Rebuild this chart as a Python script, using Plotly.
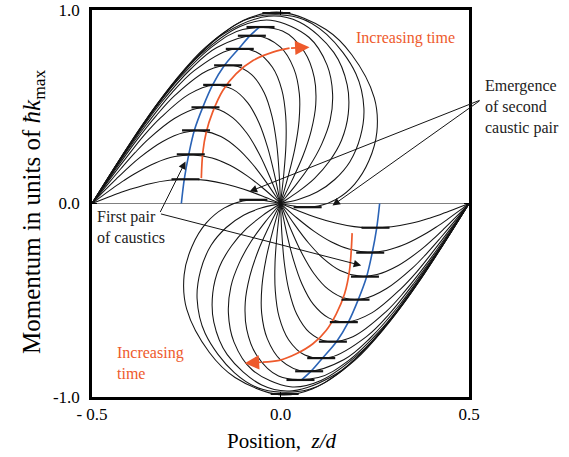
import plotly.graph_objects as go

# ---- phase-space curves (upper half, from z=-0.5 to the origin); lower half is the point reflection ----
curve_01_z = [-0.5, -0.4897, -0.4742, -0.4485, -0.4228, -0.397, -0.3463, -0.2951, -0.2455, -0.1954, -0.1459, -0.0971, -0.0484, 0.0]
curve_01_p = [0.0, 0.008, 0.0199, 0.0392, 0.0576, 0.0744, 0.1026, 0.1201, 0.1257, 0.1195, 0.101, 0.0733, 0.0386, 0.0]
curve_02_z = [-0.5, -0.4887, -0.4718, -0.4436, -0.4158, -0.3879, -0.3334, -0.2804, -0.2311, -0.1814, -0.134, -0.0884, -0.0438, 0.0]
curve_02_p = [0.0, 0.0165, 0.041, 0.0808, 0.1184, 0.1526, 0.2081, 0.2424, 0.2508, 0.2352, 0.1976, 0.1427, 0.075, 0.0]
curve_03_z = [-0.5, -0.487, -0.4676, -0.4353, -0.4038, -0.3727, -0.3124, -0.2561, -0.2065, -0.1581, -0.1146, -0.0745, -0.0366, 0.0]
curve_03_p = [0.0, 0.026, 0.0648, 0.1272, 0.1857, 0.2385, 0.3203, 0.3666, 0.3741, 0.3463, 0.2863, 0.2043, 0.1065, 0.0]
curve_04_z = [-0.5, -0.4845, -0.4613, -0.423, -0.3859, -0.3496, -0.2815, -0.2221, -0.1717, -0.1263, -0.0886, -0.056, -0.027, 0.0]
curve_04_p = [0.0, 0.037, 0.0925, 0.1809, 0.2625, 0.3342, 0.4396, 0.4913, 0.4902, 0.4429, 0.3616, 0.2546, 0.1315, 0.0]
curve_05_z = [-0.5, -0.481, -0.4526, -0.406, -0.362, -0.3184, -0.2422, -0.1779, -0.1276, -0.0873, -0.0572, -0.0342, -0.0158, 0.0]
curve_05_p = [0.0, 0.051, 0.1263, 0.2448, 0.3518, 0.442, 0.5651, 0.611, 0.5911, 0.5217, 0.4173, 0.2899, 0.1483, 0.0]
curve_06_z = [-0.5, -0.4766, -0.4417, -0.3853, -0.330, -0.2787, -0.1919, -0.1247, -0.0766, -0.0432, -0.0224, -0.0101, -0.0036, 0.0]
curve_06_p = [0.0, 0.066, 0.1646, 0.3175, 0.453, 0.5612, 0.6886, 0.7131, 0.6657, 0.572, 0.4485, 0.3074, 0.156, 0.0]
curve_07_z = [-0.5, -0.4701, -0.426, -0.3535, -0.2882, -0.2288, -0.132, -0.0645, -0.0214, 0.0035, 0.0138, 0.0145, 0.0088, 0.0]
curve_07_p = [0.0, 0.088, 0.2176, 0.4132, 0.572, 0.6867, 0.7951, 0.7832, 0.7039, 0.5877, 0.4519, 0.3056, 0.154, 0.0]
curve_08_z = [-0.5, -0.462, -0.4059, -0.317, -0.2374, -0.1688, -0.0652, -0.0007, 0.0351, 0.05, 0.0492, 0.0382, 0.0206, 0.0]
curve_08_p = [0.0, 0.115, 0.2807, 0.5205, 0.6964, 0.806, 0.8669, 0.809, 0.6985, 0.5667, 0.4272, 0.2848, 0.1424, 0.0]
curve_09_z = [-0.5, -0.4515, -0.3806, -0.3246, -0.271, -0.1768, -0.1003, 0.0052, 0.0633, 0.0896, 0.0935, 0.0815, 0.0596, 0.0312, 0.0]
curve_09_p = [0.0, 0.149, 0.358, 0.5119, 0.6413, 0.8173, 0.8994, 0.891, 0.7841, 0.6503, 0.5116, 0.3769, 0.2467, 0.122, 0.0]
curve_10_z = [-0.5, -0.438, -0.3474, -0.2785, -0.2145, -0.1073, -0.0261, 0.0753, 0.1236, 0.1382, 0.1316, 0.109, 0.0773, 0.0399, 0.0]
curve_10_p = [0.0, 0.192, 0.4526, 0.6298, 0.7658, 0.9145, 0.9472, 0.8593, 0.7149, 0.5665, 0.4292, 0.3057, 0.1941, 0.094, 0.0]
curve_11_z = [-0.5, -0.4207, -0.3636, -0.3075, -0.2227, -0.1485, -0.0318, 0.0497, 0.1413, 0.1769, 0.1797, 0.1621, 0.1301, 0.0904, 0.0461, 0.0]
curve_11_p = [0.0, 0.2445, 0.4137, 0.5629, 0.7559, 0.8795, 0.9673, 0.938, 0.7813, 0.6133, 0.4629, 0.3283, 0.2196, 0.1304, 0.0602, 0.0]
curve_12_z = [-0.5, -0.3989, -0.3265, -0.2576, -0.1576, -0.0746, 0.0458, 0.1225, 0.2, 0.2212, 0.2119, 0.1841, 0.1439, 0.098, 0.0494, 0.0]
curve_12_p = [0.0, 0.3115, 0.5169, 0.6843, 0.8722, 0.9615, 0.9617, 0.8742, 0.671, 0.4939, 0.3454, 0.2162, 0.1241, 0.0603, 0.0226, 0.0]
curve_13_z = [-0.5, -0.3705, -0.2798, -0.1978, -0.084, 0.0037, 0.1206, 0.1886, 0.2488, 0.2556, 0.2345, 0.1967, 0.1498, 0.1, 0.0497, 0.0]
curve_13_p = [0.0, 0.394, 0.6345, 0.809, 0.9581, 0.9877, 0.8993, 0.7703, 0.5463, 0.3688, 0.2205, 0.1005, 0.024, -0.0131, -0.0163, 0.0]

# ---- caustic markers (curve maxima, upper half; lower half mirrored) ----
dash_z = [-0.252, -0.238, -0.224, -0.199, -0.168, -0.139, -0.108, -0.076, -0.053, -0.011, -0.072]
dash_p = [0.125, 0.254, 0.378, 0.497, 0.613, 0.714, 0.799, 0.867, 0.912, 0.984, 0.019]

# ---- blue caustic line (upper; lower mirrored) ----
blue_z = [-0.263, -0.255, -0.243, -0.228, -0.206, -0.180, -0.149, -0.111, -0.082, -0.056]
blue_p = [0.0, 0.128, 0.257, 0.381, 0.498, 0.613, 0.713, 0.800, 0.865, 0.911]

# ---- orange "increasing time" arrows ----
orange_up_z = [-0.210, -0.206, -0.197, -0.180, -0.153, -0.118, -0.073, -0.020, 0.024]
orange_up_p = [0.131, 0.265, 0.368, 0.472, 0.584, 0.670, 0.739, 0.782, 0.803]
orange_lo_z = [0.190, 0.183, 0.170, 0.148, 0.121, 0.086, 0.042, -0.003, -0.047]
orange_lo_p = [-0.153, -0.346, -0.467, -0.570, -0.656, -0.725, -0.777, -0.811, -0.820]

x_tickvals = [-0.5, 0.0, 0.5]
x_ticktext = ["- 0.5", "0.0", "0.5"]
y_tickvals = [-1.0, 0.0, 1.0]
y_ticktext = ["-1.0", "0.0", "1.0"]

curves = [
    (curve_01_z, curve_01_p), (curve_02_z, curve_02_p), (curve_03_z, curve_03_p),
    (curve_04_z, curve_04_p), (curve_05_z, curve_05_p), (curve_06_z, curve_06_p),
    (curve_07_z, curve_07_p), (curve_08_z, curve_08_p), (curve_09_z, curve_09_p),
    (curve_10_z, curve_10_p), (curve_11_z, curve_11_p), (curve_12_z, curve_12_p),
    (curve_13_z, curve_13_p),
]

FONT = "Liberation Serif"
ORANGE = "#ee5a2c"
BLUE = "#2a63b6"
INK = "#141414"

fig = go.Figure()

for z, p in curves:
    zz = list(z) + [-v for v in reversed(z[:-1])]
    pp = list(p) + [-v for v in reversed(p[:-1])]
    fig.add_trace(go.Scatter(x=zz, y=pp, mode="lines",
                             line=dict(color=INK, width=1.05, shape="spline", smoothing=1.0),
                             hoverinfo="skip"))

for oz, op in [(orange_up_z, orange_up_p), (orange_lo_z, orange_lo_p)]:
    fig.add_trace(go.Scatter(x=oz, y=op, mode="lines",
                             line=dict(color=ORANGE, width=1.7, shape="spline"),
                             hoverinfo="skip"))

fig.add_trace(go.Scatter(x=blue_z, y=blue_p, mode="lines",
                         line=dict(color=BLUE, width=1.6, shape="spline"), hoverinfo="skip"))
fig.add_trace(go.Scatter(x=[-v for v in blue_z], y=[-v for v in blue_p], mode="lines",
                         line=dict(color=BLUE, width=1.6, shape="spline"), hoverinfo="skip"))

fig.add_trace(go.Scatter(x=dash_z + [-v for v in dash_z], y=dash_p + [-v for v in dash_p],
                         mode="markers",
                         marker=dict(symbol="line-ew", size=20, color=INK,
                                     line=dict(width=2.2, color=INK)),
                         hoverinfo="skip"))

annotations = []
# orange arrowheads
annotations.append(dict(x=0.077, y=0.808, ax=orange_up_z[-1], ay=orange_up_p[-1],
                        xref="x", yref="y", axref="x", ayref="y", text="", showarrow=True,
                        arrowhead=2, arrowsize=1.7, arrowwidth=1.7, arrowcolor=ORANGE))
annotations.append(dict(x=-0.095, y=-0.825, ax=orange_lo_z[-1], ay=orange_lo_p[-1],
                        xref="x", yref="y", axref="x", ayref="y", text="", showarrow=True,
                        arrowhead=2, arrowsize=1.7, arrowwidth=1.7, arrowcolor=ORANGE))
# black pointer arrows
for (tx, ty, hx, hy) in [(-0.321, -0.052, -0.252, 0.217),
                         (-0.321, -0.052, 0.214, -0.320),
                         (0.532, 0.536, -0.082, 0.062),
                         (0.532, 0.536, 0.138, -0.010)]:
    annotations.append(dict(x=hx, y=hy, ax=tx, ay=ty, xref="x", yref="y", axref="x", ayref="y",
                            text="", showarrow=True, arrowhead=2, arrowsize=1.5, arrowwidth=1.0,
                            arrowcolor=INK))
# text labels
annotations.append(dict(x=0.332, y=0.853, xref="x", yref="y", text="Increasing time",
                        showarrow=False, xanchor="center", yanchor="middle",
                        font=dict(family=FONT, size=16, color=ORANGE)))
annotations.append(dict(x=-0.440, y=-0.822, xref="x", yref="y", text="Increasing<br>time",
                        showarrow=False, xanchor="left", yanchor="middle", align="left",
                        font=dict(family=FONT, size=16, color=ORANGE)))
annotations.append(dict(x=-0.493, y=-0.119, xref="x", yref="y", text="First pair<br>of caustics",
                        showarrow=False, xanchor="left", yanchor="middle", align="left",
                        font=dict(family=FONT, size=16, color="#222222")))
annotations.append(dict(x=1.0371, y=0.7494, xref="paper", yref="paper",
                        text="Emergence<br>of second<br>caustic pair",
                        showarrow=False, xanchor="left", yanchor="middle", align="left",
                        font=dict(family=FONT, size=16, color="#222222")))
# axis titles
annotations.append(dict(x=0.504, y=-0.1137, xref="paper", yref="paper",
                        xanchor="center", yanchor="middle",
                        text="Position,  <i>z/d</i>", showarrow=False,
                        font=dict(family=FONT, size=21, color="black")))
annotations.append(dict(x=-0.1565, y=0.4806, xref="paper", yref="paper", textangle=-90,
                        xanchor="center", yanchor="middle",
                        text="Momentum in units of <i>ħk</i><sub>max</sub>", showarrow=False,
                        font=dict(family=FONT, size=25, color="black")))

fig.update_layout(
    width=569, height=457, autosize=False,
    margin=dict(l=92, r=100, t=10, b=60, autoexpand=False),
    paper_bgcolor="white", plot_bgcolor="white",
    showlegend=False,
    annotations=annotations,
    font=dict(family=FONT, size=17, color="black"),
)
fig.update_xaxes(range=[-0.5, 0.5], tickvals=x_tickvals, ticktext=x_ticktext,
                 ticks="inside", ticklen=5, tickwidth=1.2, tickcolor="black",
                 showline=True, linewidth=2.6, linecolor="black", mirror="ticks",
                 showgrid=False, zeroline=False, automargin=False, ticklabelstandoff=0,
                 tickfont=dict(family=FONT, size=17, color="black"))
fig.update_yaxes(range=[-1.0, 1.0], tickvals=y_tickvals, ticktext=y_ticktext,
                 ticks="inside", ticklen=5, tickwidth=1.2, tickcolor="black",
                 showline=True, linewidth=2.6, linecolor="black", mirror="ticks",
                 showgrid=False, zeroline=True, zerolinecolor="#808080", zerolinewidth=1,
                 automargin=False, ticklabelstandoff=6,
                 tickfont=dict(family=FONT, size=17, color="black"))

fig.write_html("out.html", config={"displayModeBar": False},
               post_script="document.body.style.margin='0px';")
